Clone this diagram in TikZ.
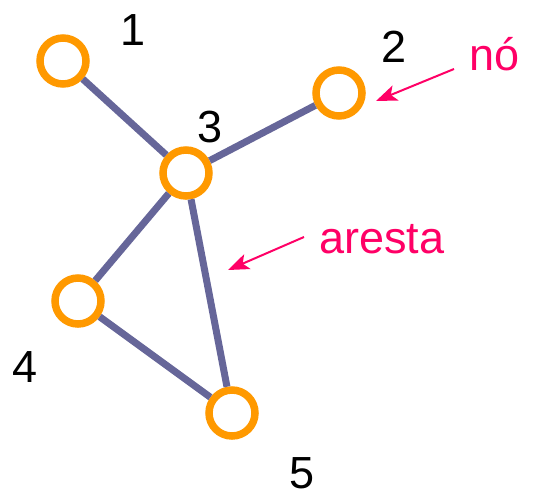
\documentclass[tikz,border=0pt]{standalone}
\usepackage{fontspec}
\setmainfont{Liberation Sans}
\usetikzlibrary{arrows.meta}
\definecolor{ringorange}{HTML}{FF9900}
\definecolor{edgeblue}{HTML}{666699}
\definecolor{notepink}{HTML}{FF0066}
\begin{document}
\begin{tikzpicture}[x=1pt,y=-1pt,
  vert/.style={circle,draw=ringorange,fill=white,line width=7.5pt,minimum size=46pt,inner sep=0pt},
  edge/.style={draw=edgeblue,line width=7pt},
  lbl/.style={anchor=base,inner sep=0pt,font=\fontsize{45}{50}\selectfont},
  note/.style={lbl,anchor=base west,text=notepink},
  pointer/.style={draw=notepink,line width=2pt,-{Stealth[length=21pt,width=16pt,inset=5pt]}}]
\useasboundingbox (0,0) rectangle (545,496);
\node[vert] (n1) at (63,61) {};
\node[vert] (n2) at (339,93) {};
\node[vert] (n3) at (186,173) {};
\node[vert] (n4) at (78,301) {};
\node[vert] (n5) at (232,413) {};
\draw[edge] (n1) -- (n3);
\draw[edge] (n3) -- (n2);
\draw[edge] (n3) -- (n4);
\draw[edge] (n3) -- (n5);
\draw[edge] (n4) -- (n5);
\node[lbl] (l1) at (133,45) {1};
\node[lbl] (l2) at (394,62) {2};
\node[lbl] (l3) at (210,142) {3};
\node[lbl] (l4) at (25,382) {4};
\node[lbl] (l5) at (302,488) {5};
\node[note] (no) at (469,70) {nó};
\node[note] (ar) at (319,253) {aresta};
\coordinate (noS) at (454,69);
\coordinate (noT) at (376,101);
\coordinate (arS) at (304,237);
\coordinate (arT) at (228,270);
\draw[pointer] (noS) -- (noT);
\draw[pointer] (arS) -- (arT);
\end{tikzpicture}
\end{document}
